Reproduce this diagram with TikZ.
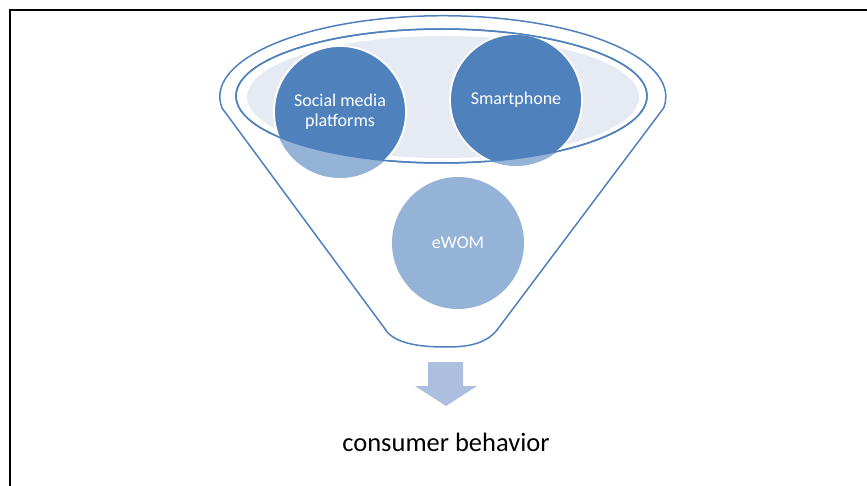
\documentclass[tikz,border=0pt]{standalone}
\usepackage{fontspec}
\setmainfont{Carlito}
\definecolor{darkblue}{RGB}{79,129,189}
\definecolor{lightblue}{RGB}{149,179,215}
\definecolor{paleblue}{RGB}{230,234,243}
\definecolor{arrowblue}{RGB}{172,191,222}
\tikzset{
  bubble/.style={circle, minimum size=134pt, inner sep=0pt, text=white, align=center,
    font=\fontsize{18}{20}\selectfont},
  rim/.style={draw=darkblue, line width=1.5pt}
}
\begin{document}
\begin{tikzpicture}[x=1pt, y=-1pt]
  \useasboundingbox (0,0) rectangle (867,486);
  % frame
  \draw[line width=1.6pt] (10,486) -- (10,10) -- (867,10);

  % funnel body
  \draw[rim, fill=white] (222,108) arc[start angle=188, end angle=-8, x radius=223pt, y radius=81pt]
    -- (497,330) .. controls (485,345) and (465,347) .. (446,347)
    .. controls (425,347) and (400,345) .. (388,333) -- cycle;

  % top ellipse
  \draw[rim, fill=white] (441.5,96) ellipse[x radius=205.5pt, y radius=67pt];
  \fill[paleblue] (443,97) ellipse[x radius=196pt, y radius=61pt];

  % the three circles
  \coordinate (c1) at (340,112);
  \coordinate (c2) at (516,100);
  \coordinate (c3) at (458,243);
  \foreach \c in {c1,c2,c3} {
    \fill[lightblue] (\c) circle[radius=66pt];
  }
  \begin{scope}
    \clip (441.5,96) ellipse[x radius=205.5pt, y radius=67pt];
    \foreach \c in {c1,c2} {
      \fill[darkblue, draw=white, line width=1.8pt] (\c) circle[radius=66pt];
    }
  \end{scope}
  \draw[darkblue, line width=1.5pt] (441.5,96) ellipse[x radius=205.5pt, y radius=67pt];

  % labels
  \node[bubble] (social) at (c1) {Social media\\platforms};
  \node[bubble] (phone) at (c2) {Smartphone};
  \node[bubble] (ewom) at (c3) {eWOM};

  % arrow and result
  \fill[arrowblue] (428,362) -- (463,362) -- (463,386) -- (477,386) -- (446,406)
    -- (415,386) -- (428,386) -- cycle;
  \node[font=\fontsize{26.5}{30}\selectfont] (result) at (446,442) {consumer behavior};
\end{tikzpicture}
\end{document}
